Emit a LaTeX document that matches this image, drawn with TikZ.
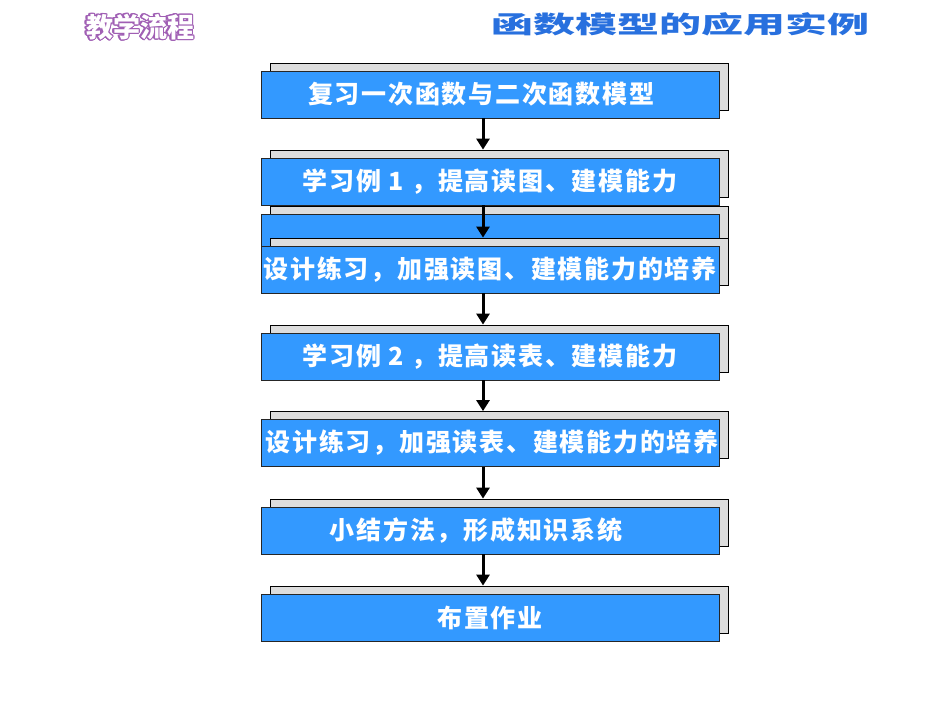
\documentclass[tikz,border=0pt]{standalone}
\usepackage{fontspec}
\usepackage{contour}
\usetikzlibrary{arrows.meta}
\newfontfamily\boxfont{Noto Sans CJK SC}[LetterSpace=7]
\newfontfamily\headfont{Noto Sans CJK SC}
\definecolor{boxblue}{RGB}{51,153,255}
\definecolor{shadowgray}{RGB}{221,221,221}
\definecolor{headblue}{RGB}{40,112,222}
\definecolor{headpurple}{RGB}{160,95,180}
\contourlength{1.1pt}

\begin{document}
\begin{tikzpicture}[x=1pt, y=1pt]
  \tikzstyle{shadow_box} = [draw=black, fill=shadowgray, line width=0.8pt, minimum width=458pt, minimum height=47pt];
  \tikzstyle{blue_box}   = [draw=black!85, fill=boxblue, line width=0.8pt, minimum width=458pt, minimum height=47pt, inner sep=0pt, text=white, font=\boxfont\bfseries\fontsize{25}{30}\selectfont];
  \tikzstyle{flow_arrow} = [line width=3pt, -{Triangle[length=11pt, width=13pt]}];

  \useasboundingbox (0, 0) rectangle (950, 713);

  % headings
  \node[text=white, font=\headfont\bfseries\fontsize{27}{30}\selectfont] (lefttitle) at (140, 685.5) {\contour{headpurple}{教学流程}};
  \node[text=headblue, font=\headfont\bfseries\fontsize{24}{28}\selectfont] (righttitle) at (680, 689) {\scalebox{1.75}[1]{函数模型的应用实例}};

  % steps
  \node[shadow_box] (s1) at (499, 626.5) {};
  \node[blue_box]   (b1) at (490, 618.5) {\raisebox{-5pt}{复习一次函数与二次函数模型}\hspace*{18pt}};

  \node[shadow_box] (s2) at (499, 539.5) {};
  \node[blue_box]   (b2) at (490, 531.5) {学习例 1 ，提高读图、建模能力};

  \node[shadow_box] (s3) at (499, 483.5) {};
  \node[blue_box]   (b3) at (490, 475.5) {};

  \node[shadow_box] (s4) at (499, 451.5) {};
  \node[blue_box]   (b4) at (490, 443.5) {\raisebox{-5pt}{设计练习，加强读图、建模能力的培养}};

  \node[shadow_box] (s5) at (499, 364.5) {};
  \node[blue_box]   (b5) at (490, 356.5) {学习例 2 ，提高读表、建模能力};

  \node[shadow_box] (s6) at (499, 278) {};
  \node[blue_box]   (b6) at (490, 270) {\hspace*{4pt}设计练习，加强读表、建模能力的培养};

  \node[shadow_box] (s7) at (499, 190.5) {};
  \node[blue_box]   (b7) at (490, 182.5) {小结方法，形成知识系统\hspace*{28pt}};

  \node[shadow_box] (s8) at (499, 103.5) {};
  \node[blue_box]   (b8) at (490, 95.5) {布置作业};

  % arrows
  \draw[flow_arrow] ([xshift=-7pt]b1.south) -- ([xshift=-7pt]b1.south |- s2.north);
  \draw[flow_arrow] ([xshift=-7pt]b2.south) -- ([xshift=-7pt]b2.south |- s4.north);
  \draw[flow_arrow] ([xshift=-7pt]b4.south) -- ([xshift=-7pt]b4.south |- s5.north);
  \draw[flow_arrow] ([xshift=-7pt]b5.south) -- ([xshift=-7pt]b5.south |- s6.north);
  \draw[flow_arrow] ([xshift=-7pt]b6.south) -- ([xshift=-7pt]b6.south |- s7.north);
  \draw[flow_arrow] ([xshift=-7pt]b7.south) -- ([xshift=-7pt]b7.south |- s8.north);
\end{tikzpicture}
\end{document}
